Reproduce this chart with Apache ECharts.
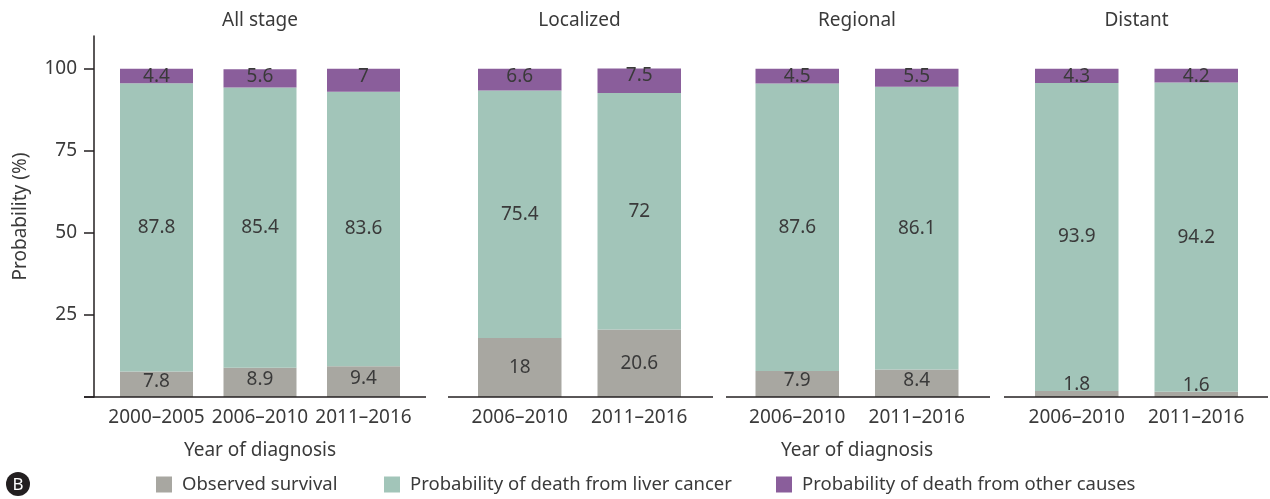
<!DOCTYPE html>
<html>
<head>
<meta charset="utf-8">
<script src="https://cdn.jsdelivr.net/npm/echarts@6/dist/echarts.min.js"></script>
<style>
  html, body { margin: 0; padding: 0; background: #fff; }
  #chart { width: 1270px; height: 499px; }
</style>
</head>
<body>
<div id="chart"></div>
<script>
// data
var panels = ['All stage', 'Localized', 'Regional', 'Distant'];
var periodsAll = ['2000–2005', '2006–2010', '2011–2016'];
var periodsStage = ['2006–2010', '2011–2016'];
var observed = [[7.8, 8.9, 9.4], [18, 20.6], [7.9, 8.4], [1.8, 1.6]];
var liverDeath = [[87.8, 85.4, 83.6], [75.4, 72], [87.6, 86.1], [93.9, 94.2]];
var otherDeath = [[4.4, 5.6, 7], [6.6, 7.5], [4.5, 5.5], [4.3, 4.2]];
var seriesNames = ['Observed survival', 'Probability of death from liver cancer', 'Probability of death from other causes'];
var yTicks = [0, 25, 50, 75, 100];

var colors = ['#a8a7a1', '#a2c5b9', '#8a5e9b'];
var font = 'Noto Sans';
var txt = '#3a3a3a';
var axisColor = '#231f20';

// layout of the four panels (bars band area + axis-line extent)
var layout = [
  { left: 104.75, width: 310.5, lineFrom: 84, lineTo: 426, barWidth: 73 },
  { left: 460, width: 239, lineFrom: 448, lineTo: 713, barWidth: 83.5 },
  { left: 737.5, width: 239, lineFrom: 726, lineTo: 990, barWidth: 83.5 },
  { left: 1017, width: 239, lineFrom: 1004, lineTo: 1268, barWidth: 83.5 }
];
var gridTop = 36, gridHeight = 361;
var baseY = gridTop + gridHeight;

var chart = echarts.init(document.getElementById('chart'));

var grids = [], xAxes = [], yAxes = [], series = [], graphics = [];

layout.forEach(function (p, i) {
  grids.push({ left: p.left, top: gridTop, width: p.width, height: gridHeight, outerBoundsMode: 'none', containLabel: false });
  xAxes.push({
    type: 'category',
    gridIndex: i,
    data: i === 0 ? periodsAll : periodsStage,
    axisLine: { show: false },
    axisTick: { show: false },
    axisLabel: { color: txt, fontFamily: font, fontSize: 19, margin: 11, interval: 0, hideOverlap: false },
    name: (i === 0 || i === 2) ? 'Year of diagnosis' : '',
    nameLocation: 'middle',
    nameGap: 44,
    nameTextStyle: { color: txt, fontFamily: font, fontSize: 19 }
  });
  yAxes.push({
    type: 'value',
    gridIndex: i,
    min: 0,
    max: 110,
    interval: 25,
    show: i === 0,
    offset: i === 0 ? p.left - 94 : 0,
    splitLine: { show: false },
    axisLine: { show: true, lineStyle: { color: axisColor, width: 1.5 } },
    axisTick: { show: true, length: 10, lineStyle: { color: axisColor, width: 1.5 }, customValues: yTicks },
    axisLabel: { color: txt, fontFamily: font, fontSize: 19, margin: 17, customValues: yTicks.slice(1) },
    name: 'Probability (%)',
    nameLocation: 'middle',
    nameGap: 64,
    nameTextStyle: { color: txt, fontFamily: font, fontSize: 19 }
  });

  var sets = [observed[i], liverDeath[i], otherDeath[i]];
  sets.forEach(function (vals, k) {
    series.push({
      name: seriesNames[k],
      type: 'bar',
      xAxisIndex: i,
      yAxisIndex: i,
      stack: 'p' + i,
      barWidth: p.barWidth,
      itemStyle: { color: colors[k] },
      label: {
        show: true,
        position: k === 2 ? 'insideTop' : 'inside',
        distance: -2,
        color: txt,
        fontFamily: font,
        fontSize: 19
      },
      data: vals.map(function (v) {
        if (k === 0) {
          var dy = v < 3 ? -9 : (v < 10 ? -3 : 0);
          return { value: v, label: { offset: [0, dy] } };
        }
        return v;
      })
    });
  });

  // x baseline spanning wider than bar band
  graphics.push({
    type: 'line',
    shape: { x1: p.lineFrom, y1: baseY, x2: p.lineTo, y2: baseY },
    style: { stroke: axisColor, lineWidth: 1.5 },
    z: 10
  });
  // panel title
  graphics.push({
    type: 'text',
    x: p.left + p.width / 2,
    y: 21,
    style: { text: panels[i], textAlign: 'center', textVerticalAlign: 'middle', fill: txt, font: '19px "Noto Sans"' }
  });
});

// "B" badge
graphics.push({ type: 'circle', shape: { cx: 18, cy: 484, r: 12 }, style: { fill: '#231f20' } });
graphics.push({ type: 'text', x: 18, y: 485, style: { text: 'B', textAlign: 'center', textVerticalAlign: 'middle', fill: '#fff', font: '17px "Noto Sans"' } });

var legendLefts = [156, 384, 776];
var legends = seriesNames.map(function (n, k) {
  return {
    data: [n],
    left: legendLefts[k],
    top: 475,
    padding: 0,
    itemWidth: 16,
    itemHeight: 16,
    icon: 'rect',
    textStyle: { color: txt, fontFamily: font, fontSize: 18.5, padding: [0, 0, 0, 5] },
    selectedMode: false
  };
});

chart.setOption({
  backgroundColor: '#fff',
  animation: false,
  grid: grids,
  xAxis: xAxes,
  yAxis: yAxes,
  legend: legends,
  series: series,
  graphic: graphics
});
</script>
</body>
</html>
